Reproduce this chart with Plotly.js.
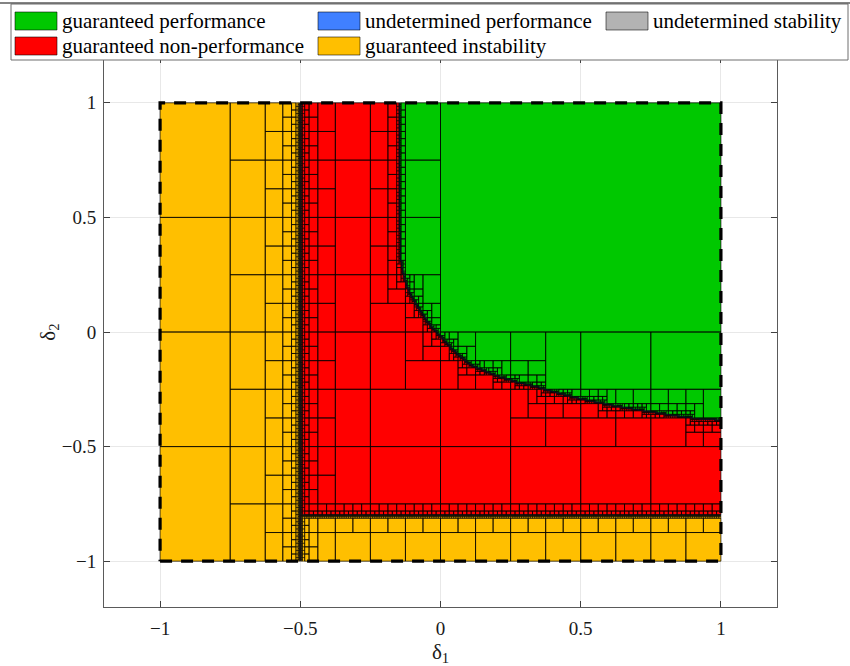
<!DOCTYPE html>
<html>
<head>
<meta charset="utf-8">
<script src="https://cdn.plot.ly/plotly-3.0.1.min.js"></script>
<style>
  html, body { margin: 0; padding: 0; background: #ffffff; }
  #chart { width: 850px; height: 666px; }
</style>
</head>
<body>
<div id="chart"></div>
<script>
// Uncertain parameter box (delta1 x delta2)
const delta1Range = [-1, 1];
const delta2Range = [-1, 1];

// Stability limits: unstable for delta1 below / delta2 below these values
const stabilityLimitD1 = -0.5;
const stabilityLimitD2 = -0.8;

// Performance boundary (performance is met above/right of this curve)
const perfBoundaryD1 = [-0.147, -0.146, -0.144, -0.140, -0.132, -0.120, -0.107, -0.090, -0.071, -0.050,
                        -0.024, 0.000, 0.042, 0.101, 0.160, 0.220, 0.279, 0.339, 0.375, 0.398,
                        0.457, 0.517, 0.576, 0.636, 0.695, 0.755, 0.814, 0.875, 0.933, 1.000];
const perfBoundaryD2 = [1.000, 0.600, 0.380, 0.300, 0.250, 0.200, 0.163, 0.125, 0.091, 0.050,
                        0.010, -0.018, -0.076, -0.140, -0.171, -0.200, -0.221, -0.239, -0.252, -0.260,
                        -0.280, -0.297, -0.312, -0.326, -0.338, -0.349, -0.362, -0.372, -0.380, -0.384];

// Bisection depth of the branch-and-bound partition
const maxDepth = 18;

// Region classes
const classKeys   = ['perf', 'undetPerf', 'undetStab', 'nonPerf', 'instab'];
const classNames  = ['guaranteed performance', 'undetermined performance', 'undetermined stability',
                     'guaranteed non-performance', 'guaranteed instability'];
const classColors = ['#00c800', '#4080ff', '#b3b3b3', '#ff0000', '#ffbf00'];

// Tick values
const tickValues = [-1, -0.5, 0, 0.5, 1];

// Performance level of the boundary at a given delta1
function perfLevel(d1) {
  const n = perfBoundaryD1.length;
  if (d1 < perfBoundaryD1[0]) return Infinity;
  if (d1 >= perfBoundaryD1[n - 1]) return perfBoundaryD2[n - 1];
  for (let i = 0; i < n - 1; i++) {
    const a = perfBoundaryD1[i], b = perfBoundaryD1[i + 1];
    if (d1 >= a && d1 <= b) {
      const t = (d1 - a) / (b - a);
      return perfBoundaryD2[i] + t * (perfBoundaryD2[i + 1] - perfBoundaryD2[i]);
    }
  }
  return perfBoundaryD2[n - 1];
}

// Decide what can be said about a whole box
function classify(x0, x1, y0, y1) {
  if (x1 < stabilityLimitD1) return 'instab';
  if (x0 <= stabilityLimitD1) return 'undetStab';
  if (y1 < stabilityLimitD2) return 'instab';
  if (y0 <= stabilityLimitD2) return 'undetStab';
  if (y0 >= perfLevel(x0)) return 'perf';
  if (y1 <= perfLevel(x1)) return 'nonPerf';
  return 'undetPerf';
}

// Alternating bisection (delta1 first), refined until decided or at max depth
const leaves = [];
function bisect(x0, x1, y0, y1, depth) {
  const c = classify(x0, x1, y0, y1);
  const decided = (c === 'perf' || c === 'nonPerf' || c === 'instab');
  if (decided || depth >= maxDepth) {
    leaves.push([x0, x1, y0, y1, c]);
    return;
  }
  if (depth % 2 === 0) {
    const xm = (x0 + x1) / 2;
    bisect(x0, xm, y0, y1, depth + 1);
    bisect(xm, x1, y0, y1, depth + 1);
  } else {
    const ym = (y0 + y1) / 2;
    bisect(x0, x1, y0, ym, depth + 1);
    bisect(x0, x1, ym, y1, depth + 1);
  }
}
bisect(delta1Range[0], delta1Range[1], delta2Range[0], delta2Range[1], 0);

// Build one filled trace per class and two outline traces (coarse / fine boxes)
const fills = {};
classKeys.forEach(k => { fills[k] = { x: [], y: [] }; });
const coarse = { x: [], y: [] }, fine = { x: [], y: [] };
leaves.forEach(([x0, x1, y0, y1, c]) => {
  const f = fills[c];
  f.x.push(x0, x1, x1, x0, x0, null);
  f.y.push(y0, y0, y1, y1, y0, null);
  const e = (x1 - x0) < 1 / 100 ? fine : coarse;
  e.x.push(x0, x1, x1, x0, x0, null);
  e.y.push(y0, y0, y1, y1, y0, null);
});

const traces = [];
classKeys.forEach((k, i) => {
  if (!fills[k].x.length) return;
  traces.push({
    type: 'scatter', mode: 'lines', x: fills[k].x, y: fills[k].y,
    fill: 'toself', fillcolor: classColors[i],
    line: { width: 0, color: classColors[i] },
    hoverinfo: 'skip', showlegend: false, name: classNames[i]
  });
});
traces.push({
  type: 'scatter', mode: 'lines', x: fine.x, y: fine.y,
  line: { color: 'rgba(0,0,0,0.66)', width: 0.7 },
  hoverinfo: 'skip', showlegend: false
});
traces.push({
  type: 'scatter', mode: 'lines', x: coarse.x, y: coarse.y,
  line: { color: 'rgba(0,0,0,0.7)', width: 1 },
  hoverinfo: 'skip', showlegend: false
});
// Dashed outline of the uncertainty box
traces.push({
  type: 'scatter', mode: 'lines',
  x: [delta1Range[0], delta1Range[1], delta1Range[1], delta1Range[0], delta1Range[0]],
  y: [delta2Range[0], delta2Range[0], delta2Range[1], delta2Range[1], delta2Range[0]],
  line: { color: '#000000', width: 3.2, dash: '12px,9px' },
  hoverinfo: 'skip', showlegend: false
});

// Page layout helpers (pixel -> paper)
const W = 850, H = 666, M = { l: 104, r: 73, t: 57, b: 59 };
const pw = W - M.l - M.r, ph = H - M.t - M.b;
const px = v => (v - M.l) / pw;
const py = v => (H - M.b - v) / ph;

// Legend drawn as a boxed block above the axes
const serif = 'Liberation Serif, Times New Roman, serif';
const shapes = [];
const annotations = [];
shapes.push({ type: 'rect', xref: 'paper', yref: 'paper', layer: 'above',
  x0: px(11), x1: px(848), y0: py(60), y1: py(4),
  fillcolor: '#ffffff', line: { color: '#6e6e6e', width: 1 } });
shapes.push({ type: 'line', xref: 'paper', yref: 'paper', layer: 'above',
  x0: px(0), x1: px(850), y0: py(3), y1: py(3), line: { color: '#5a5a5a', width: 1.5 } });

const legendCols = [15, 318, 606];
const legendRows = [21, 46];
const legendSlots = [[0, 0], [0, 1], [0, 2], [1, 0], [1, 1]];
classNames.forEach((name, i) => {
  const [r, c] = legendSlots[i];
  const sx = legendCols[c], sy = legendRows[r];
  shapes.push({ type: 'rect', xref: 'paper', yref: 'paper', layer: 'above',
    x0: px(sx), x1: px(sx + 42), y0: py(sy + 9), y1: py(sy - 9),
    fillcolor: classColors[i], line: { color: 'rgba(0,0,0,0.55)', width: 1 } });
  annotations.push({ xref: 'paper', yref: 'paper', x: px(sx + 45), y: py(sy),
    xanchor: 'left', yanchor: 'middle', showarrow: false, text: name,
    font: { family: serif, size: 21, color: '#000000' } });
});

const axisCommon = {
  range: [-1.2, 1.2], tickvals: tickValues, ticks: 'inside', ticklen: 6, tickcolor: '#404040',
  showline: true, linecolor: '#5a5a5a', linewidth: 1, mirror: 'ticks',
  showgrid: true, gridcolor: '#e8e8e8', gridwidth: 1, zeroline: false,
  tickfont: { family: serif, size: 19, color: '#1a1a1a' }, fixedrange: true
};

const layout = {
  width: W, height: H, margin: M, autosize: false,
  paper_bgcolor: '#ffffff', plot_bgcolor: '#ffffff',
  xaxis: Object.assign({}, axisCommon, {
    ticklabelstandoff: 4,
    title: { text: 'δ<sub>1</sub>', font: { family: serif, size: 21, color: '#1a1a1a' }, standoff: 6 }
  }),
  yaxis: Object.assign({}, axisCommon, {
    ticklabelstandoff: 3,
    title: { text: 'δ<sub>2</sub>', font: { family: serif, size: 21, color: '#1a1a1a' }, standoff: 0 }
  }),
  shapes: shapes,
  annotations: annotations,
  showlegend: false
};

Plotly.newPlot('chart', traces, layout, { displayModeBar: false, staticPlot: true });
</script>
</body>
</html>
